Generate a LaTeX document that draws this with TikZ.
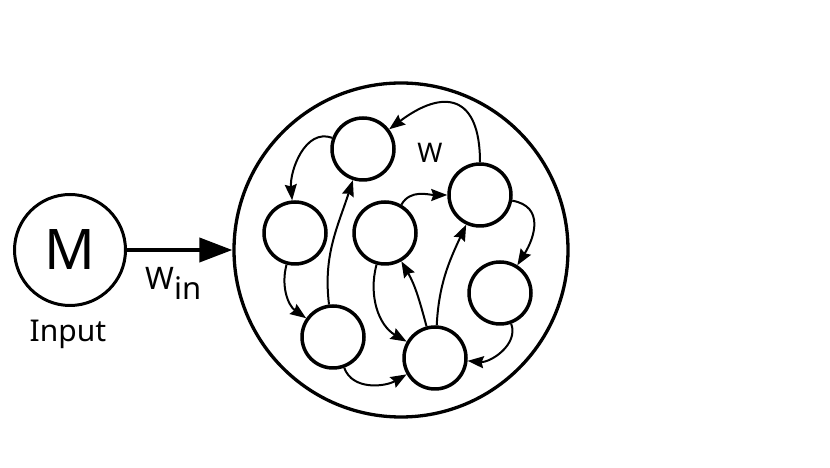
\documentclass[tikz,border=0pt]{standalone}
\usepackage{fontspec}
\setmainfont{Noto Sans}
\usetikzlibrary{positioning,arrows.meta}
\begin{document}
\begin{tikzpicture}[x=1pt,y=1pt]
    \tikzstyle{unit}=[draw, circle, line width=3.5pt, minimum size=62pt, inner sep=0pt]
    \tikzstyle{link}=[line width=2pt, -{Stealth[length=16pt,width=12pt,inset=2pt]}]
    \useasboundingbox (0,0) rectangle (830,468);

    \node[draw, circle, line width=3.3pt, minimum size=334pt] (reservoir) at (401,218) {};
    \node[draw, circle, line width=3pt, minimum size=111pt, inner sep=0pt,
          font=\fontsize{56}{60}\selectfont] (input) at (70,218) {M};
    \node[anchor=base, font=\fontsize{30}{34}\selectfont] (inputlabel) at (68,126) {Input};
    \node[anchor=base west, inner sep=0pt, font=\fontsize{31}{34}\selectfont] (win) at (145,178) {W\raisebox{-10pt}{in}};
    \node[anchor=base, inner sep=0pt, font=\fontsize{27}{30}\selectfont] (w) at (430,305) {W};

    \node[unit] (top) at (363,319) {};
    \node[unit] (left) at (295,235) {};
    \node[unit] (middle) at (385,235) {};
    \node[unit] (upright) at (480,273) {};
    \node[unit] (right) at (500,175) {};
    \node[unit] (lowleft) at (333,131) {};
    \node[unit] (bottom) at (435,110) {};

    \draw[line width=4pt, -{Triangle[length=33pt,width=24pt]}] (input) -- (reservoir);

    \draw[link] (upright) to[out=90, in=37, looseness=1.8] (top);
    \draw[link] (top) to[out=160, in=95] (left);
    \draw[link] (left) to[out=-105, in=145] (lowleft);
    \draw[link] (lowleft) to[out=97, in=-108] (top);
    \draw[link] (lowleft) to[out=-70, in=210] (bottom);
    \draw[link] (middle) to[out=-105, in=150] (bottom);
    \draw[link] (bottom) to[out=105, in=-60] (middle);
    \draw[link] (bottom) to[out=87, in=-115] (upright);
    \draw[link] (middle) to[out=60, in=180] (upright);
    \draw[link] (upright) to[out=-10, in=58, looseness=1.3] (right);
    \draw[link] (right) to[out=-70, in=-5] (bottom);
\end{tikzpicture}
\end{document}
